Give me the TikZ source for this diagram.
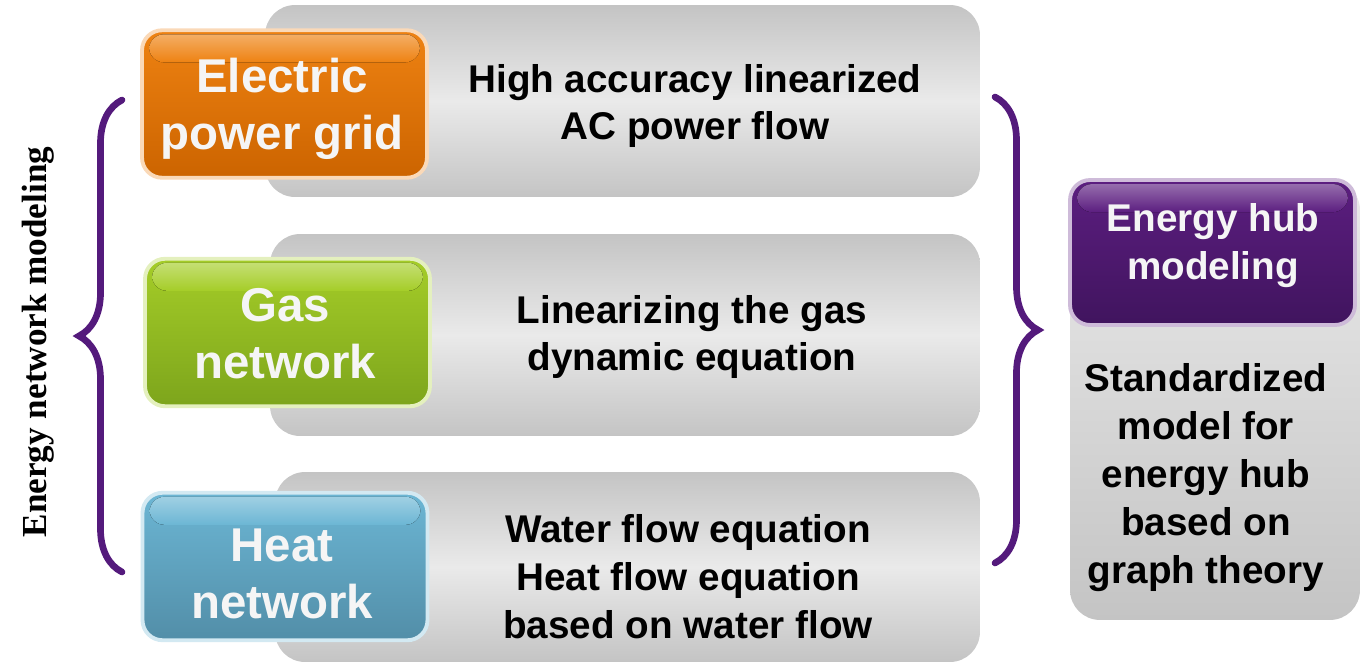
\documentclass[tikz,border=0pt]{standalone}
\usepackage{fontspec}
\setmainfont{Liberation Sans}
\newfontfamily\serifbold{Liberation Serif}
\usetikzlibrary{decorations.pathreplacing,calc}

\definecolor{panelDark}{RGB}{196,196,196}
\definecolor{panelLight}{RGB}{234,234,234}
\definecolor{elecTop}{RGB}{238,130,18}
\definecolor{elecBot}{RGB}{204,100,0}
\definecolor{gasTop}{RGB}{165,205,40}
\definecolor{gasBot}{RGB}{125,165,28}
\definecolor{heatTop}{RGB}{108,182,212}
\definecolor{heatBot}{RGB}{82,142,168}
\definecolor{hubTop}{RGB}{92,30,128}
\definecolor{hubBot}{RGB}{64,20,94}
\definecolor{braceCol}{RGB}{84,26,124}

\tikzset{
  panel/.style={rounded corners=0.6cm, inner sep=0pt, top color=panelDark, bottom color=panelDark, middle color=panelLight},
  tag/.style={rounded corners=0.4cm, inner sep=0pt, line width=2.2pt, minimum width=5.7cm, minimum height=2.95cm},
  gloss/.style={rounded corners=0.3cm},
  tagtext/.style={text=white!96!black, font=\bfseries\fontsize{27}{32.5}\selectfont, align=center},
  bodytext/.style={font=\bfseries\fontsize{22}{27.3}\selectfont, align=center},
  curly/.style={decorate, decoration={brace, amplitude=0.86cm}, draw=braceCol, line width=3.8pt, line cap=round}
}

\begin{document}
\begin{tikzpicture}[x=0.02cm, y=-0.02cm]
    \useasboundingbox (0,0) rectangle (1370,670);

    % Grey panels
    \node[panel, minimum width=14.3cm, minimum height=3.84cm] (gridpanel) at (622.5,101) {};
    \node[panel, minimum width=14.2cm, minimum height=4.04cm] (gaspanel) at (625,335) {};
    \node[panel, minimum width=14.1cm, minimum height=3.8cm] (heatpanel) at (627.5,567) {};
    \node[rounded corners=0.6cm, inner sep=0pt, top color=white!92!black, bottom color=panelDark, minimum width=5.8cm, minimum height=8.8cm] (hubpanel) at (1215,400) {};

    % Coloured tags
    \node[tag, draw=elecTop!30!white, top color=elecTop, bottom color=elecBot] (elec) at (284.5,104) {};
    \node[tag, draw=gasTop!30!white, top color=gasTop, bottom color=gasBot] (gas) at (287.5,332.5) {};
    \node[tag, draw=heatTop!30!white, top color=heatTop, bottom color=heatBot] (heat) at (285,566.5) {};
    \node[tag, draw=hubTop!30!white, top color=hubTop, bottom color=hubBot, minimum height=2.9cm] (hub) at (1212.5,252.5) {};

    % Gloss on the tags
    \fill[gloss, top color=elecTop!65!white, bottom color=elecTop] ($(elec.north west)+(9,6)$) rectangle ($(elec.north east)+(-9,34)$);
    \fill[gloss, top color=gasTop!65!white, bottom color=gasTop] ($(gas.north west)+(9,6)$) rectangle ($(gas.north east)+(-9,34)$);
    \fill[gloss, top color=heatTop!65!white, bottom color=heatTop] ($(heat.north west)+(9,6)$) rectangle ($(heat.north east)+(-9,34)$);
    \fill[gloss, top color=hubTop!65!white, bottom color=hubTop] ($(hub.north west)+(9,6)$) rectangle ($(hub.north east)+(-9,34)$);

    % Tag labels
    \node[tagtext] (electxt) at (282,109) {Electric\\power grid};
    \node[tagtext] (gastxt) at (285,334) {Gas\\network};
    \node[tagtext] (heattxt) at (282,574) {Heat\\network};
    \node[tagtext, font=\bfseries\fontsize{22}{27.3}\selectfont] (hubtxt) at (1213,246) {Energy hub\\modeling};

    % Panel texts
    \node[bodytext] (gridbody) at (695,106) {High accuracy linearized\\AC power flow};
    \node[bodytext] (gasbody) at (692,337) {Linearizing the gas\\dynamic equation};
    \node[bodytext] (heatbody) at (688,577) {Water flow equation\\Heat flow equation\\based on water flow};
    \node[bodytext] (hubbody) at (1206,478) {Standardized\\model for\\energy hub\\based on\\graph theory};

    % Braces
    \coordinate (lbtop) at (122,100);
    \coordinate (lbbot) at (122,572);
    \coordinate (rbtop) at (995,97);
    \coordinate (rbbot) at (995,563);
    \draw[curly] (lbbot) -- (lbtop);
    \draw[curly] (rbtop) -- (rbbot);

    % Side label
    \node[rotate=90, font=\serifbold\bfseries\fontsize{20}{24}\selectfont] (sidelabel) at (38,342) {Energy network modeling};
\end{tikzpicture}
\end{document}
